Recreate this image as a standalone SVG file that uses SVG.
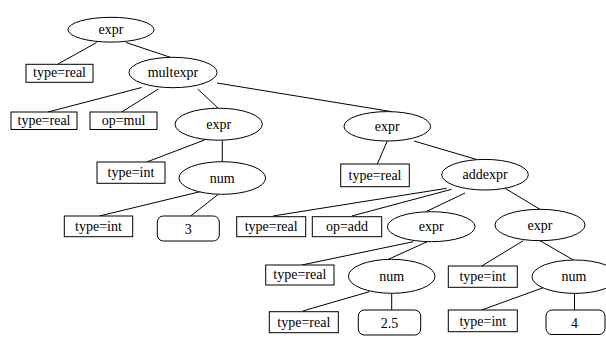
<svg xmlns="http://www.w3.org/2000/svg" width="606" height="338" viewBox="0 0 606 338" font-family="'Liberation Serif', 'Times New Roman', 'DejaVu Serif', serif">
<style>
.n ellipse,.n rect{fill:#fff;stroke:#000;stroke-width:1}
.n text{font-family:'Liberation Serif','Times New Roman','DejaVu Serif',serif;font-size:14px;text-anchor:middle;fill:#000}
#edges line{stroke:#000;stroke-width:1}
</style>
<rect width="606" height="338" fill="#fff"/>
<g id="edges">
<line x1="96.7" y1="42.5" x2="58" y2="64"/>
<line x1="126" y1="42.5" x2="171" y2="57.5"/>
<line x1="141.7" y1="87.5" x2="48" y2="112"/>
<line x1="158.3" y1="89" x2="121.7" y2="112"/>
<line x1="197.7" y1="89" x2="218.3" y2="108.3"/>
<line x1="217" y1="83" x2="392" y2="111.7"/>
<line x1="204.5" y1="140" x2="146.7" y2="162"/>
<line x1="222.3" y1="140.3" x2="222.3" y2="161.7"/>
<line x1="200" y1="191.7" x2="99.3" y2="216"/>
<line x1="218.3" y1="194.3" x2="190.7" y2="216"/>
<line x1="387.3" y1="141" x2="377.3" y2="164"/>
<line x1="414" y1="141" x2="476.7" y2="159.5"/>
<line x1="446.7" y1="188.3" x2="273" y2="216"/>
<line x1="451.7" y1="189.3" x2="351.7" y2="216"/>
<line x1="465" y1="193" x2="426" y2="211.7"/>
<line x1="503.3" y1="187.3" x2="540" y2="209.3"/>
<line x1="413.3" y1="241.7" x2="301.7" y2="265"/>
<line x1="427.3" y1="241.7" x2="388.3" y2="259.3"/>
<line x1="523.3" y1="240.7" x2="481.7" y2="266"/>
<line x1="540" y1="240.7" x2="573.3" y2="260"/>
<line x1="369.3" y1="291.7" x2="302.7" y2="311"/>
<line x1="391.7" y1="293.3" x2="391.7" y2="310"/>
<line x1="546" y1="286.7" x2="481.7" y2="310"/>
<line x1="574.5" y1="293.3" x2="574.5" y2="310"/>
</g>
<g id="n_root" class="n"><ellipse cx="111" cy="29.7" rx="43" ry="12.4"/><text x="111" y="34">expr</text></g>
<g id="n_t1" class="n"><rect x="26" y="64.3" width="67" height="18"/><text x="59.5" y="77">type=real</text></g>
<g id="n_mult" class="n"><ellipse cx="173" cy="72.5" rx="44" ry="15.2"/><text x="173" y="77">multexpr</text></g>
<g id="n_t2" class="n"><rect x="11" y="112" width="66" height="17.5"/><text x="44" y="125">type=real</text></g>
<g id="n_op1" class="n"><rect x="90" y="112" width="67" height="17.5"/><text x="123.5" y="125">op=mul</text></g>
<g id="n_e2" class="n"><ellipse cx="218.7" cy="124.2" rx="43.6" ry="16"/><text x="218.7" y="129">expr</text></g>
<g id="n_t3" class="n"><rect x="97" y="162" width="68" height="21.3"/><text x="131" y="177">type=int</text></g>
<g id="n_num1" class="n"><ellipse cx="222.3" cy="178" rx="43.3" ry="16.3"/><text x="222.3" y="182.5">num</text></g>
<g id="n_t4" class="n"><rect x="64.3" y="216" width="68.4" height="20.7"/><text x="98.5" y="230.5">type=int</text></g>
<g id="n_v3" class="n"><rect x="157.3" y="216" width="62" height="25" rx="6" ry="6"/><text x="188.3" y="234.3">3</text></g>
<g id="n_e3" class="n"><ellipse cx="387.3" cy="126.3" rx="43.3" ry="14.7"/><text x="387.3" y="131">expr</text></g>
<g id="n_t5" class="n"><rect x="340.7" y="164" width="68.6" height="22.7"/><text x="375" y="179.5">type=real</text></g>
<g id="n_add" class="n"><ellipse cx="485" cy="174.7" rx="43.3" ry="15.3"/><text x="485" y="179">addexpr</text></g>
<g id="n_t6" class="n"><rect x="236.7" y="216.7" width="69" height="20"/><text x="271.2" y="230.5">type=real</text></g>
<g id="n_op2" class="n"><rect x="312.3" y="216.7" width="69.4" height="20"/><text x="347" y="230.5">op=add</text></g>
<g id="n_e4" class="n"><ellipse cx="431.2" cy="226.7" rx="43.8" ry="15"/><text x="431.2" y="231">expr</text></g>
<g id="n_e5" class="n"><ellipse cx="540" cy="225" rx="45" ry="15.7"/><text x="540" y="229.5">expr</text></g>
<g id="n_t7" class="n"><rect x="265.7" y="265" width="68.3" height="20"/><text x="299.8" y="279">type=real</text></g>
<g id="n_num2" class="n"><ellipse cx="391.7" cy="276.3" rx="43.3" ry="17"/><text x="391.7" y="281">num</text></g>
<g id="n_t8" class="n"><rect x="448.3" y="266" width="69" height="21.3"/><text x="482.8" y="281">type=int</text></g>
<g id="n_num3" class="n"><ellipse cx="575" cy="276.7" rx="43" ry="16.7"/><text x="574" y="281">num</text></g>
<g id="n_t9" class="n"><rect x="269.3" y="311.7" width="69" height="21"/><text x="303.8" y="326.5">type=real</text></g>
<g id="n_v25" class="n"><rect x="358.3" y="310" width="62.4" height="25" rx="6" ry="6"/><text x="389.5" y="328.3">2.5</text></g>
<g id="n_t10" class="n"><rect x="448.3" y="310" width="69" height="21.7"/><text x="482.8" y="325.5">type=int</text></g>
<g id="n_v4" class="n"><rect x="546" y="310" width="59" height="24.5" rx="6" ry="6"/><text x="574.5" y="328.3">4</text></g>
</svg>
